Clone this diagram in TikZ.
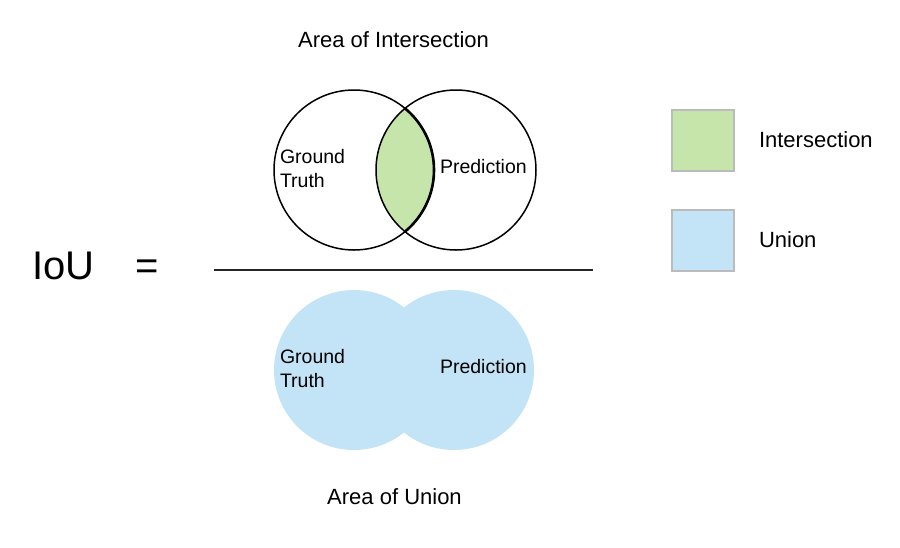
\documentclass[tikz,border=0pt]{standalone}
\usepackage{fontspec}
\setmainfont{Liberation Sans}
\definecolor{lensgreen}{HTML}{C5E5AA}
\definecolor{unionblue}{HTML}{C3E4F6}
\definecolor{boxgray}{HTML}{BBBBBB}
\begin{document}
\begin{tikzpicture}[x=1pt,y=-1pt,
  lbl/.style={inner sep=0pt,outer sep=0pt,font=\fontsize{19.5}{23}\selectfont,anchor=base west},
  big/.style={inner sep=0pt,outer sep=0pt,font=\fontsize{22}{26}\selectfont},
  huge/.style={inner sep=0pt,outer sep=0pt,font=\fontsize{40}{46}\selectfont,anchor=base},
  venn/.style={draw=black,line width=1.5pt},
  legendbox/.style={draw=boxgray,line width=1.5pt}]
\useasboundingbox (0,0) rectangle (900,547);
\fill[white] (0,0) rectangle (900,547);
% top: intersection
\begin{scope}
  \clip (354,170) circle (80);
  \fill[lensgreen] (456,170) circle (80);
\end{scope}
\draw[venn] (354,170) circle (80);
\draw[venn] (456,170) circle (80);
\begin{scope}
  \clip (456,170) circle (80);
  \draw[line width=2.6pt] (354,170) circle (80);
\end{scope}
\node[big,anchor=base] (title) at (393.5,47) {Area of Intersection};
\node[lbl] (gt1) at (280,163) {Ground};
\node[lbl] (tt1) at (280,187) {Truth};
\node[lbl] (pr1) at (440,173) {Prediction};
% fraction line
\coordinate (la) at (214,270);
\coordinate (lb) at (593,270);
\draw[line width=2pt,black!85] (la) -- (lb);
\node[huge] (iou) at (63.5,279) {IoU};
\node[huge] (eq) at (147,279) {=};
% bottom: union
\fill[unionblue] (354,370) circle (80);
\fill[unionblue] (454,370) circle (80);
\node[big,anchor=base] (utitle) at (394.5,504) {Area of Union};
\node[lbl] (gt2) at (280,363) {Ground};
\node[lbl] (tt2) at (280,387) {Truth};
\node[lbl] (pr2) at (440,373) {Prediction};
% legend
\draw[legendbox,fill=lensgreen] (672,110) rectangle (734,171);
\draw[legendbox,fill=unionblue] (672,210) rectangle (734,271);
\node[big,anchor=base west] (li) at (759,147) {Intersection};
\node[big,anchor=base west] (lu) at (759,247) {Union};
\end{tikzpicture}
\end{document}
